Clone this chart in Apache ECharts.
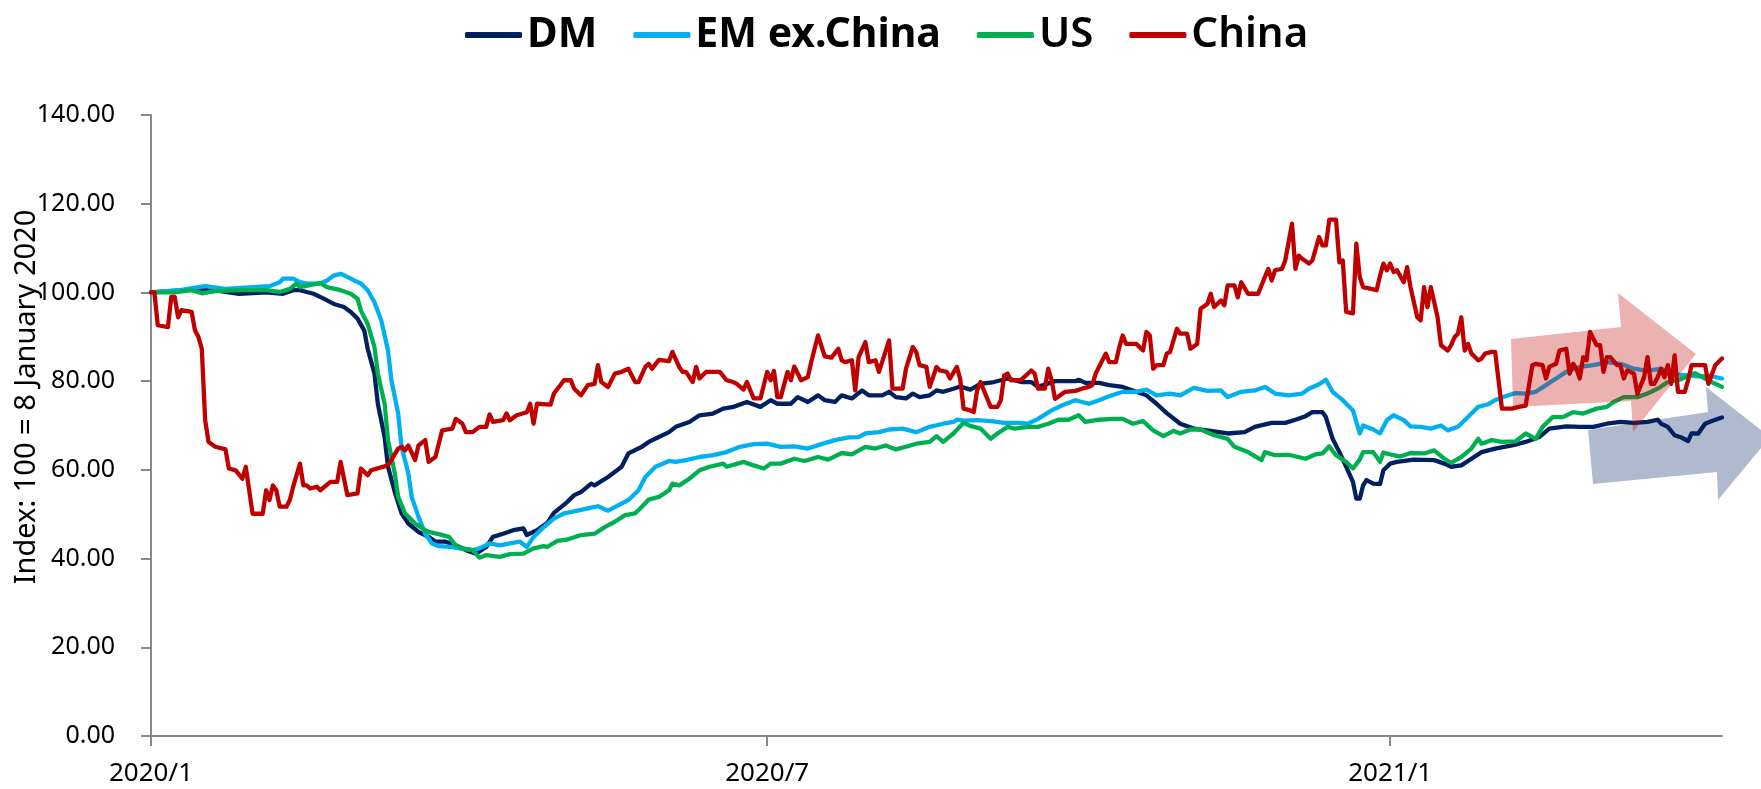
<!DOCTYPE html>
<html>
<head>
<meta charset="utf-8">
<script src="https://cdn.jsdelivr.net/npm/echarts@6/dist/echarts.min.js"></script>
<style>
html,body{margin:0;padding:0;background:#fff;}
#chart{width:1761px;height:789px;}
</style>
</head>
<body>
<div id="chart"></div>
<script>
// Day offsets are calendar days counted from the base date, 8 January 2020 (index = 100)
const baseDate = [2020, 0, 8];
const lastDay = 464;
const xTickDays = [0, 182, 366];
const yTicks = [0, 20, 40, 60, 80, 100, 120, 140];
const seriesNames = ['DM', 'EM ex.China', 'US', 'China'];

const dmDay = [0,16,26,34,39,42,44,48,51,54,57,59,61,63,64,66,67,69,70,72,74,76,79,82,84,87,90,93,96,99,101,104,107,110,111,114,117,119,123,125,127,130,131,135,139,141,145,147,150,153,155,159,162,166,169,172,176,180,183,185,189,191,194,197,199,202,204,207,210,212,216,218,220,223,225,227,230,232,234,237,239,242,245,249,253,257,260,262,267,273,274,276,280,283,287,291,294,297,300,304,308,313,318,323,326,331,335,338,341,343,346,347,349,351,353,355,356,357,358,359,361,363,364,366,368,373,379,382,384,387,390,393,397,402,406,410,413,418,422,426,430,434,438,442,445,446,448,450,452,454,455,457,459,461,464];
const dmVal = [100,100.8,99.7,100,99.7,100.5,100.5,99.7,98.6,97.4,96.7,95.6,94.1,91.4,87.3,81.7,74.9,67.4,60.7,55,50.2,47.9,46,44.9,43.8,43.8,43,41.9,41.1,42.6,44.9,45.6,46.4,46.8,45.3,46.4,48,50.3,52.8,54.3,55,56.9,56.5,58.4,60.7,63.7,65.2,66.3,67.4,68.5,69.7,70.8,72.3,72.7,73.8,74.2,75.3,74.2,75.7,74.9,74.9,76.4,75.3,76.8,75.7,75.3,76.8,76.1,77.9,76.8,76.8,77.6,76.4,76.1,77.2,76.4,76.8,77.9,77.6,78.3,78.8,78.1,79.4,79.8,80.6,79.8,79.8,78.7,80,80,80.3,79.6,79.6,79.1,78.7,77.6,76.8,74.9,72.8,70.4,69.3,68.8,68.2,68.5,69.7,70.6,70.6,71.3,72.1,73,73,71.9,67,64,60.7,57.3,53.5,53.5,56.5,57.7,56.9,56.8,59.9,61.4,61.8,62.3,62.2,61.4,60.7,61,62.5,64,64.8,65.5,66.3,67.4,69.3,69.8,69.7,69.7,70.4,70.8,70.6,70.8,71.3,70.4,69.7,67.8,67.3,66.5,68.2,68.2,70.4,71,71.8];

const emDay = [0,9,16,22,30,35,38,39,42,44,46,50,52,54,56,58,60,62,64,66,68,70,71,73,74,76,77,79,81,83,85,89,91,95,97,100,103,106,109,111,113,116,119,122,126,129,132,135,138,141,144,146,149,153,155,158,162,166,170,174,178,182,186,190,194,198,202,206,209,211,215,218,222,226,230,234,237,238,240,244,248,252,256,259,262,266,269,273,277,280,283,287,291,294,297,301,304,308,312,316,318,322,326,329,332,336,340,342,345,347,349,352,355,357,358,361,363,365,367,370,372,375,378,381,383,386,388,390,392,395,397,400,403,406,409,412,415,418,422,426,430,434,438,442,446,450,454,457,461,464];
const emVal = [100,100.6,101.4,100.8,101.2,101.4,102.3,103.1,103.1,102.3,102,102,102.7,103.8,104.2,103.5,102.7,102,100.5,97.8,93.7,86.9,80.2,72.7,65.2,59.2,53.9,49.4,45.6,43.4,42.8,42.6,42.3,41.9,42.3,43.4,43,43.4,43.8,42.6,44.9,47.1,49,50.2,50.8,51.3,51.8,50.8,52,53.2,55.4,58.4,60.7,62,61.8,62.2,62.9,63.3,64,65.2,65.8,65.9,65.2,65.3,64.8,65.8,66.7,67.3,67.4,68.2,68.5,69.1,69.3,68.5,69.7,70.4,70.8,71.3,71.1,71.2,71,70.6,70.6,70.4,71.5,73.4,74.5,75.7,74.9,75.7,76.6,77.6,77.6,78.1,76.8,77.2,76.8,78.5,77.8,77.9,76.4,77.6,77.9,78.7,77.2,76.8,77.2,78.3,79.3,80.3,77.6,75.7,73.4,68.2,70,69.1,68.2,71.2,72.3,71.2,69.8,69.7,69.3,70,68.9,69.7,71.2,72.7,74.2,74.8,75.7,76.6,77.3,77.2,77.6,79.1,80.6,82.1,83.2,83.6,84.3,83.9,82.8,82.3,82.8,81.5,81.3,81.1,81.1,80.6];

const usDay = [0,7,12,15,19,26,34,38,41,43,44,48,50,52,56,59,61,62,64,66,67,69,70,72,73,75,78,81,82,85,88,90,92,95,97,99,103,106,110,113,116,117,120,123,127,131,134,137,140,143,145,147,150,153,154,156,159,162,165,169,170,175,178,181,183,186,190,193,197,200,204,207,211,214,217,220,223,226,230,232,234,237,240,242,245,248,250,253,255,259,262,265,268,271,274,276,280,284,287,290,293,296,299,302,304,307,310,314,318,320,324,328,329,332,336,341,344,346,348,350,353,355,357,358,361,363,364,367,369,372,376,379,382,384,387,390,392,393,396,399,403,406,409,411,414,417,420,423,427,430,432,435,439,442,445,448,451,454,456,459,462,464];
const usVal = [100,100,100.5,99.8,100.3,100.5,100.5,100.1,100.8,102,101.2,101.8,102.1,101.2,100.5,99.7,98.6,95.9,92.9,87.7,81.7,74.9,66.7,59.2,53.9,50.2,47.9,46.4,46,45.5,44.9,43,42.3,41.9,40.2,40.8,40.4,41,41.1,42.3,42.8,42.6,44,44.3,45.3,45.6,47.1,48.3,49.8,50.2,51.7,53.3,53.9,55.4,56.9,56.5,58,59.9,60.7,61.4,60.7,61.8,61,60.3,61.4,61.4,62.5,62,62.9,62.3,63.8,63.5,65.2,64.8,65.5,64.6,65.2,65.9,66.3,67.6,66.3,68.2,70.6,69.9,69.3,67,68.2,69.7,69.3,69.7,69.7,70.4,71.3,71.3,72.3,70.8,71.3,71.5,71.5,70.4,71,68.9,67.6,68.8,68.2,69.1,69.1,67.8,67,65.2,64,62.2,64,63.3,63.4,62.5,63.5,63.7,65.3,63.3,61.8,60.3,62.3,64,64,61.8,63.9,63.3,63,63.8,63.7,64.4,62.5,61.6,62.9,64.8,67,65.9,66.7,66.3,66.4,68.2,67,69.7,71.9,71.9,73,72.7,73.8,74.2,75.3,76.4,76.4,77.2,78.3,79.8,80.2,81.1,81.8,80.6,79.4,78.7];

const cnDay = [0,1,2,5,6,7,8,9,12,13,14,15,16,17,19,22,23,25,27,28,30,33,34,35,36,37,38,40,41,42,44,45,46,47,49,50,53,55,56,58,61,62,64,65,70,73,74,75,76,78,79,81,82,84,86,89,90,92,93,95,97,99,100,101,104,105,106,108,111,112,113,114,118,119,122,124,125,127,129,131,132,133,135,137,139,141,143,144,146,147,148,150,153,154,156,157,158,160,161,162,164,168,170,172,173,175,176,178,180,182,183,184,185,186,188,189,190,192,194,195,197,199,201,203,204,205,207,208,209,211,212,214,215,218,219,222,223,225,226,227,229,230,232,233,235,236,238,239,240,242,243,244,245,246,248,250,251,252,253,254,257,260,261,262,264,265,266,267,270,273,275,277,278,279,280,282,283,285,286,287,288,291,293,294,295,296,297,299,300,301,303,304,306,307,309,310,312,313,314,316,317,318,320,321,322,324,327,329,330,331,332,334,335,337,338,339,340,342,343,345,346,347,348,350,351,352,353,355,356,357,358,362,363,364,365,366,367,368,370,371,372,374,375,376,377,378,380,381,383,384,385,386,387,388,389,390,392,393,394,396,397,398,399,402,404,406,408,409,411,412,413,414,415,416,418,419,420,421,422,423,424,425,427,428,429,430,431,433,434,435,436,438,439,441,442,443,444,445,446,447,448,449,450,451,453,454,455,457,459,460,462,464];
const cnVal = [100,100,92.6,92.2,99,99,94.4,96,95.6,91.4,90,87.3,71.2,66.3,65.2,64.6,60.3,59.9,58,60.7,50.1,50.1,55.4,53.2,56.5,55.4,51.7,51.7,53.2,56.2,61.4,56.5,56.5,55.8,56.2,55.4,57.3,57.3,61.8,54.3,54.7,60.3,58.8,59.9,61,64.8,65.2,64.4,65.5,62.2,65.5,66.7,61.8,62.9,68.9,69.3,71.5,70.4,68.5,68.5,69.7,69.7,72.5,70.8,71.2,72.7,71.2,72.3,73,74.9,70.4,74.9,74.7,77.2,80.2,80.2,78.3,76.8,79.1,79.4,83.6,79.8,78.7,81.7,82.1,82.8,79.8,79.8,83.2,83.9,82.8,84.8,84.5,86.6,83.2,82.1,82.1,79.8,83.2,80.6,82.1,82.1,80.2,79.8,79.4,78.1,79.8,76.1,76.1,82.1,80.2,82.3,76.4,76.4,82.1,80.2,83.3,80.2,80.9,84.3,90.3,85.6,85.3,87.3,84.7,84.3,84.7,77.9,85.4,88.8,84.3,84.7,82.1,89.2,78.3,78.3,82.8,87.7,86.6,83.6,83.2,78.7,83.2,82.4,82.1,80.6,83.2,80.5,73.8,73.4,73,77.9,79.8,77.9,74.2,74.2,75.7,81.3,81.7,80.2,80.3,82.4,81.7,78.3,78.3,82.8,80.2,76,77.6,77.8,78.3,78.7,79.1,81.7,83.2,86.2,84.3,84.3,87.7,90.3,88.4,88.4,86.9,91.1,90.3,82.8,83.6,83.6,86.2,86.6,91.8,90.7,90.7,87.3,88.4,96.3,97.4,99.7,96.7,98.2,97.1,101.6,101.6,98.9,102.3,99.7,99.7,103.5,105.3,102.7,105,105.3,107.2,115.5,105.3,108.3,107.6,106.5,107.2,112.5,110.6,110.6,116.4,116.4,106.8,107.2,95.6,95.3,111,103.5,101.2,100.5,103.8,106.5,105,106.5,104.6,105,102.3,105.7,101.2,94.4,93.7,101.2,96.7,101.2,94.4,88.1,86.9,88.1,89.9,90.7,94.4,86.9,88.4,86.2,84.7,85.1,86.2,86.6,86.6,80.2,73.8,73.8,74.2,74.5,83.6,83.9,83.6,80.6,83.2,83.6,83.9,86.9,87.3,81.7,83.9,82.8,80.6,85.4,84.7,91.1,88.1,88.1,82.1,85.4,85.4,83.6,83.6,80.6,82.4,81.7,77.2,80.9,85.4,79.4,79.4,80.9,82.8,80.9,83.6,79.4,85.8,77.6,77.6,80.2,83.6,83.6,83.6,79.4,83.6,85.1];

const colors = ['#002060', '#00B0F0', '#00B050', '#C00000'];
const font = 'Noto Sans';

function ts(d) { return new Date(baseDate[0], baseDate[1], baseDate[2] + d).getTime(); }
function pairs(days, vals) { return days.map((d, i) => [ts(d), vals[i]]); }

const chart = echarts.init(document.getElementById('chart'), null, {renderer: 'canvas'});
const dataSets = [pairs(dmDay, dmVal), pairs(emDay, emVal), pairs(usDay, usVal), pairs(cnDay, cnVal)];
const xTickTs = xTickDays.map(ts);

chart.setOption({
  animation: false,
  backgroundColor: '#ffffff',
  color: colors,
  legend: {
    top: 9,
    left: 460,
    itemWidth: 57,
    itemHeight: 6,
    itemGap: 36,
    icon: 'roundRect',
    textStyle: {fontFamily: font, fontSize: 42, color: '#000', fontWeight: 600},
    data: [
      {name: seriesNames[0], textStyle: {fontWeight: 'bold'}},
      {name: seriesNames[1], textStyle: {fontWeight: 'bold', fontSize: 41}},
      {name: seriesNames[2]},
      {name: seriesNames[3]}
    ]
  },
  grid: {left: 151, right: 39, top: 115, bottom: 53},
  xAxis: {
    type: 'value',
    min: ts(0),
    max: ts(lastDay),
    axisLine: {show: true, lineStyle: {color: '#898989', width: 2}},
    axisTick: {show: true, length: 10, lineStyle: {color: '#898989', width: 2}, customValues: xTickTs},
    axisLabel: {
      customValues: xTickTs,
      fontFamily: font, fontSize: 26, color: '#000', margin: 25,
      formatter: function (v) { const d = new Date(v); return d.getFullYear() + '/' + (d.getMonth() + 1); }
    },
    splitLine: {show: false}
  },
  yAxis: {
    type: 'value',
    min: yTicks[0],
    max: yTicks[yTicks.length - 1],
    interval: 20,
    axisLine: {show: true, lineStyle: {color: '#898989', width: 2}},
    axisTick: {show: true, length: 10, lineStyle: {color: '#898989', width: 2}},
    axisLabel: {fontFamily: font, fontSize: 25, color: '#000', margin: 36, formatter: v => v.toFixed(2)},
    splitLine: {show: false}
  },
  series: seriesNames.map((n, i) => ({
    name: n,
    type: 'line',
    data: dataSets[i],
    showSymbol: false,
    symbol: 'none',
    lineStyle: {width: 4.3, color: colors[i], cap: 'round', join: 'round'},
    itemStyle: {color: colors[i]},
    z: 2 + i
  })),
  graphic: [
    {
      type: 'text', x: 27, y: 397, rotation: Math.PI / 2, z: 50,
      style: {text: 'Index: 100 = 8 January 2020', fontFamily: font, fontSize: 29, fill: '#000', align: 'center', verticalAlign: 'middle'}
    },
    {
      type: 'polygon', z: 100,
      shape: {points: [[1588,430],[1708,412],[1706,387],[1770,437],[1718,500],[1717,472],[1593,484]]},
      style: {fill: 'rgba(0,32,96,0.31)'}
    },
    {
      type: 'polygon', z: 101,
      shape: {points: [[1511,339],[1621,327],[1618,293],[1696,354],[1633,432],[1631,401],[1513,407]]},
      style: {fill: 'rgba(192,0,0,0.3)'}
    }
  ]
});
</script>
</body>
</html>
